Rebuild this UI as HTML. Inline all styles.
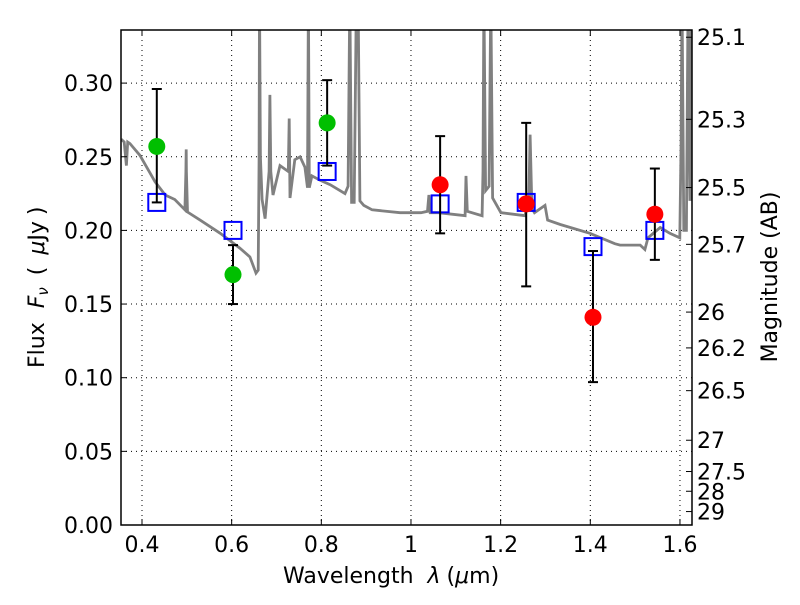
<!DOCTYPE html>
<html><head><meta charset="utf-8"><style>
body{margin:0;background:#fff;}
svg text{font-family:"DejaVu Sans","Liberation Sans",sans-serif;}
</style></head><body>
<svg id="c" width="800" height="600" xmlns="http://www.w3.org/2000/svg"></svg>
<script>
const specLam=[0.3534,0.3602,0.3651,0.368,0.3729,0.3953,0.4293,0.4517,0.4732,0.4956,0.498,0.4985,0.499,0.5014,0.5296,0.5744,0.6182,0.6406,0.6543,0.6591,0.6611,0.662,0.664,0.6679,0.6747,0.6835,0.6854,0.6874,0.6922,0.7078,0.7263,0.7283,0.7302,0.7409,0.7526,0.7633,0.7692,0.7711,0.7731,0.7789,0.7974,0.8198,0.8529,0.8597,0.8636,0.8675,0.8734,0.8782,0.8821,0.886,0.8948,0.9133,0.9756,1.0223,1.0369,1.0399,1.0428,1.0613,1.1207,1.1227,1.1256,1.1587,1.1607,1.1626,1.1665,1.1743,1.1781,1.182,1.2005,1.2541,1.2628,1.2658,1.2697,1.2755,1.2989,1.3047,1.333,1.3992,1.4547,1.4664,1.5112,1.5218,1.5287,1.5559,1.5773,1.5997,1.6026,1.6046,1.6085,1.6143,1.6182,1.6221,1.626,1.627];
const specFlux=[0.262,0.26,0.244,0.26,0.259,0.251,0.233,0.224,0.221,0.214,0.24,0.255,0.24,0.2125,0.207,0.198,0.188,0.182,0.171,0.173,0.25,0.36,0.25,0.221,0.208,0.24,0.292,0.24,0.224,0.244,0.24,0.276,0.222,0.248,0.25,0.243,0.229,0.36,0.229,0.237,0.234,0.231,0.225,0.23,0.36,0.219,0.219,0.36,0.36,0.22,0.217,0.214,0.212,0.212,0.213,0.224,0.212,0.212,0.21,0.237,0.213,0.21,0.24,0.36,0.227,0.23,0.36,0.222,0.212,0.21,0.22,0.265,0.215,0.212,0.217,0.207,0.204,0.198,0.191,0.19,0.19,0.187,0.195,0.202,0.198,0.195,0.26,0.36,0.2,0.2,0.36,0.22,0.36,0.22];
const greenLam=[0.433,0.603,0.813];
const greenFlux=[0.257,0.170,0.273];
const greenLo=[0.219,0.150,0.244];
const greenHi=[0.296,0.190,0.302];
const redLam=[1.065,1.257,1.406,1.544];
const redFlux=[0.231,0.218,0.141,0.211];
const redLo=[0.198,0.162,0.097,0.180];
const redHi=[0.264,0.273,0.186,0.242];
const modelLam=[0.433,0.603,0.813,1.065,1.257,1.406,1.544];
const modelFlux=[0.219,0.200,0.240,0.218,0.219,0.189,0.200];
const xTicks=[0.4,0.6,0.8,1.0,1.2,1.4,1.6];
const xTickLabels=["0.4","0.6","0.8","1","1.2","1.4","1.6"];
const yTicks=[0,0.05,0.1,0.15,0.2,0.25,0.3];
const yTickLabels=["0.00","0.05","0.10","0.15","0.20","0.25","0.30"];
const magTicks=[25.1,25.3,25.5,25.7,26,26.2,26.5,27,27.5,28,29];
const magTickLabels=["25.1","25.3","25.5","25.7","26","26.2","26.5","27","27.5","28","29"];

const L=121,R=692,T=30,B=525;
const X=v=>142+(v-0.4)*448.3;
const Y=v=>525-v*1473;
const svg=document.getElementById('c');
const NS='http://www.w3.org/2000/svg';
function mk(tag,a,parent){const e=document.createElementNS(NS,tag);for(const k in a)e.setAttribute(k,a[k]);(parent||svg).appendChild(e);return e;}
const clip=mk('clipPath',{id:'pc'});mk('rect',{x:L,y:T,width:R-L,height:B-T},clip);

xTicks.forEach((t,i)=>{const g=mk('line',{x1:X(t),x2:X(t),y1:T,y2:B,stroke:'#000','stroke-width':1,'stroke-dasharray':'1,4'});

});
yTicks.forEach((t,i)=>{if(i>0){const g=mk('line',{x1:L,x2:R,y1:Y(t),y2:Y(t),stroke:'#000','stroke-width':1,'stroke-dasharray':'1,4'});

}});

let d='';specLam.forEach((l,i)=>{d+=(i?'L':'M')+X(l).toFixed(1)+','+Y(specFlux[i]).toFixed(1);});
const sp=mk('path',{d:d,fill:'none',stroke:'#808080','stroke-width':2.8,'clip-path':'url(#pc)'});



modelLam.forEach((l,i)=>{const s=mk('rect',{x:X(l)-8.5,y:Y(modelFlux[i])-8.5,width:17,height:17,fill:'none',stroke:'#0000ff','stroke-width':2});

});

function pts(lam,fl,lo,hi,col,name){
 lam.forEach((l,i)=>{
  const x=X(l);
  const e=mk('g',{stroke:'#000','stroke-width':2});
  
  
  mk('line',{x1:x,x2:x,y1:Y(lo[i]),y2:Y(hi[i])},e);
  mk('line',{x1:x-5,x2:x+5,y1:Y(lo[i]),y2:Y(lo[i])},e);
  mk('line',{x1:x-5,x2:x+5,y1:Y(hi[i]),y2:Y(hi[i])},e);
  const c=mk('circle',{cx:x,cy:Y(fl[i]),r:8.5,fill:col});
  
  
 });
}
pts(greenLam,greenFlux,greenLo,greenHi,'#00bf00','green-detection');
pts(redLam,redFlux,redLo,redHi,'#ff0000','red-detection');

const f=mk('rect',{x:L,y:T,width:R-L,height:B-T,fill:'none',stroke:'#000','stroke-width':1.5});



xTicks.forEach((t,i)=>{
 mk('line',{x1:X(t),x2:X(t),y1:B,y2:B-6,stroke:'#000'});
 mk('line',{x1:X(t),x2:X(t),y1:T,y2:T+6,stroke:'#000'});
 const tx=mk('text',{x:X(t),y:552,'font-size':22,'text-anchor':'middle'});tx.textContent=xTickLabels[i];
 
 
});
yTicks.forEach((t,i)=>{
 mk('line',{x1:L,x2:L+6,y1:Y(t),y2:Y(t),stroke:'#000'});
 const tx=mk('text',{x:113,y:Y(t)+8,'font-size':22,'text-anchor':'end'});tx.textContent=yTickLabels[i];
 
 
});
magTicks.forEach((m,i)=>{
 const y=Y(Math.pow(10,(23.9-m)/2.5));
 mk('line',{x1:R,x2:R-6,y1:y,y2:y,stroke:'#000'});
 const tx=mk('text',{x:697,y:y+8,'font-size':22});tx.textContent=magTickLabels[i];
 
 
});
</script>
<svg width="800" height="600" style="position:absolute;left:0;top:0" xmlns="http://www.w3.org/2000/svg">
<text x="283" y="583" font-size="22" font-family="DejaVu Sans, Liberation Sans, sans-serif">Wavelength<tspan dx="14" font-style="italic">λ</tspan><tspan dx="6">(</tspan><tspan font-style="italic">μ</tspan>m)</text>
<text transform="translate(44,368) rotate(-90)" font-size="22" font-family="DejaVu Sans, Liberation Sans, sans-serif">Flux<tspan dx="14" font-style="italic">F</tspan><tspan font-style="italic" font-size="15" dy="4">ν</tspan><tspan dy="-4" dx="12">(</tspan><tspan dx="12" font-style="italic">μ</tspan>Jy<tspan dx="6">)</tspan></text>
<text transform="translate(777,277) rotate(-90)" font-size="22" text-anchor="middle" font-family="DejaVu Sans, Liberation Sans, sans-serif">Magnitude (AB)</text>
</svg>
</body></html>
